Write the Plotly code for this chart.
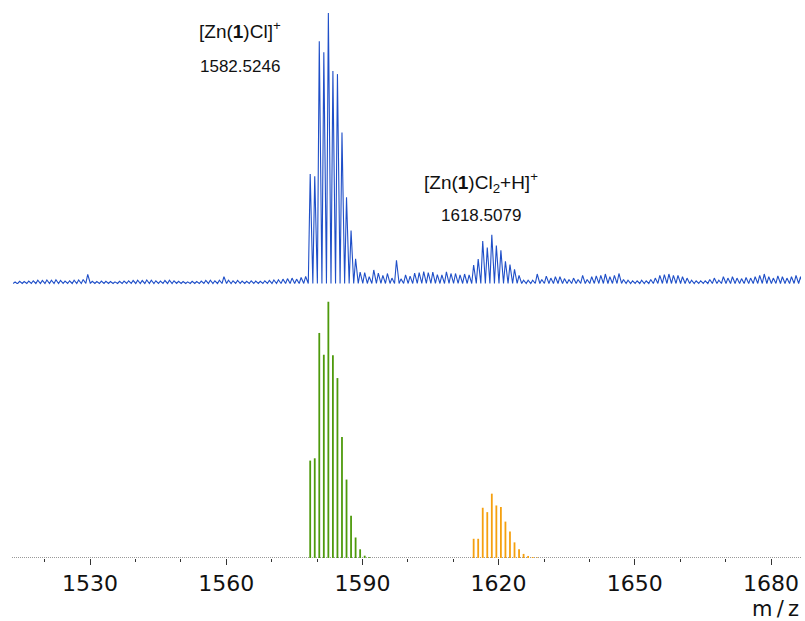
import plotly.graph_objects as go

# ---------------- data ----------------
# Experimental spectrum (blue): intensities at m/z = 1513.5 + i (step 1)
blue_start = 1513.5
blue_noise_a = [0.006, 0.008, 0.007, 0.009, 0.010, 0.012, 0.011, 0.013,
                0.012, 0.014, 0.011, 0.009, 0.010, 0.012, 0.013, 0.015]      # 1513.5-1528.5
blue_spike_1529 = [0.034]                                                    # 1529.5
blue_noise_b = [0.008, 0.007, 0.009, 0.008, 0.007, 0.006, 0.008, 0.009, 0.010, 0.011,
                0.012, 0.011, 0.013, 0.012, 0.010, 0.009, 0.011, 0.012, 0.010, 0.008,
                0.007, 0.006, 0.008, 0.007, 0.009, 0.011, 0.012, 0.010, 0.012]  # 1530.5-1558.5
blue_spike_1559 = [0.025]                                                    # 1559.5
blue_noise_c = [0.012, 0.010, 0.011, 0.009, 0.008, 0.010, 0.009, 0.008,
                0.010, 0.011, 0.013, 0.014]                                  # 1560.5-1571.5
blue_noise_d = [0.016, 0.018, 0.020, 0.016, 0.022, 0.026]                    # 1572.5-1577.5
blue_cluster_1 = [0.405, 0.396, 0.896, 0.855, 1.000, 0.786, 0.774, 0.558,
                  0.319, 0.196, 0.091, 0.042]                                # 1578.5-1589.5
blue_noise_e = [0.040, 0.025, 0.050, 0.038, 0.030, 0.037, 0.020, 0.086, 0.017, 0.032,
                0.027, 0.038, 0.040, 0.044, 0.040, 0.042, 0.033, 0.032, 0.043, 0.037,
                0.037, 0.032, 0.035, 0.032]                                  # 1590.5-1613.5
blue_cluster_2 = [0.068, 0.090, 0.157, 0.133, 0.180, 0.140, 0.123, 0.082,
                  0.070, 0.052, 0.030]                                       # 1614.5-1624.5
blue_noise_f = [0.012, 0.012, 0.012, 0.035, 0.015, 0.027, 0.020, 0.025, 0.025, 0.018,
                0.015, 0.020, 0.015, 0.030, 0.015]                           # 1625.5-1639.5
blue_noise_g = [0.025, 0.028, 0.030, 0.035, 0.025, 0.030, 0.037,
                0.015, 0.012, 0.010, 0.010, 0.012, 0.010, 0.015, 0.020,
                0.030, 0.033, 0.035, 0.030, 0.030, 0.025, 0.020,
                0.012, 0.010, 0.010, 0.010, 0.015, 0.020, 0.012, 0.025,
                0.020, 0.025, 0.020, 0.018, 0.022, 0.020, 0.025, 0.030, 0.035, 0.025, 0.020,
                0.028, 0.025, 0.020, 0.025, 0.030, 0.025]                    # 1640.5-1686.5

blue_intensity = (blue_noise_a + blue_spike_1529 + blue_noise_b + blue_spike_1559 +
                  blue_noise_c + blue_noise_d + blue_cluster_1 + blue_noise_e +
                  blue_cluster_2 + blue_noise_f + blue_noise_g)
blue_mz = [blue_start + i for i in range(len(blue_intensity))]

# Simulated isotope pattern [Zn(1)Cl]+ (green)
green_mz = [1578.5, 1579.5, 1580.5, 1581.5, 1582.5, 1583.5, 1584.5,
            1585.5, 1586.5, 1587.5, 1588.5, 1589.5, 1590.5, 1591.5]
green_int = [0.380, 0.389, 0.878, 0.793, 1.000, 0.791, 0.702,
             0.472, 0.306, 0.165, 0.080, 0.034, 0.009, 0.003]

# Simulated isotope pattern [Zn(1)Cl2+H]+ (orange)
orange_mz = [1614.5, 1615.5, 1616.5, 1617.5, 1618.5, 1619.5, 1620.5, 1621.5,
             1622.5, 1623.5, 1624.5, 1625.5, 1626.5, 1627.5, 1628.5]
orange_int = [0.075, 0.075, 0.196, 0.179, 0.251, 0.205, 0.199, 0.142,
              0.103, 0.061, 0.034, 0.016, 0.008, 0.004, 0.002]

x_tick_vals = [1530, 1560, 1590, 1620, 1650, 1680]
x_tick_text = ["1530", "1560", "1590", "1620", "1650", "1680"]

label1 = ("[Zn(<b>1</b>)Cl]<sup>+</sup>", "1582.5246")
label2 = ("[Zn(<b>1</b>)Cl<sub>2</sub>+H]<sup>+</sup>", "1618.5079")

# ---------------- figure ----------------
BLUE = "#1f4fc8"
GREEN = "#4e9a0c"
ORANGE = "#f5a00f"

# profile line for experimental trace
px, py = [], []
hw = 0.42
for m, h in zip(blue_mz, blue_intensity):
    px += [m - hw, m, m + hw]
    py += [0, h, 0]

def sticks(mz, inten):
    xs, ys = [], []
    for m, h in zip(mz, inten):
        xs += [m, m, None]
        ys += [0, h, None]
    return xs, ys

gx, gy = sticks(green_mz, green_int)
ox, oy = sticks(orange_mz, orange_int)

fig = go.Figure()
fig.add_trace(go.Scatter(x=px, y=py, mode="lines", xaxis="x", yaxis="y2",
                         line=dict(color=BLUE, width=1.1), hoverinfo="skip",
                         showlegend=False))
fig.add_trace(go.Scatter(x=gx, y=gy, mode="lines", xaxis="x", yaxis="y",
                         line=dict(color=GREEN, width=1.8), hoverinfo="skip",
                         showlegend=False))
fig.add_trace(go.Scatter(x=ox, y=oy, mode="lines", xaxis="x", yaxis="y",
                         line=dict(color=ORANGE, width=1.8), hoverinfo="skip",
                         showlegend=False))

fig.add_shape(type="line", xref="paper", x0=0, x1=1, yref="y", y0=0, y1=0,
              line=dict(color="#333333", width=1, dash="1px,1px"), layer="below")

ann_font = dict(family="Liberation Sans, Arial, sans-serif", size=19, color="#111111")
num_font = dict(family="Liberation Sans, Arial, sans-serif", size=17, color="#111111")
annotations = [
    dict(x=1563.0, y=0.937, xref="x", yref="y2", text=label1[0], showarrow=False, font=ann_font),
    dict(x=1563.0, y=0.804, xref="x", yref="y2", text=label1[1], showarrow=False, font=num_font),
    dict(x=1616.1, y=0.372, xref="x", yref="y2", text=label2[0], showarrow=False, font=ann_font),
    dict(x=1616.1, y=0.253, xref="x", yref="y2", text=label2[1], showarrow=False, font=num_font),
    dict(x=1.0, y=-0.092, xref="paper", yref="paper", xanchor="right", yanchor="middle",
         text="m\u2009/\u2009z", showarrow=False,
         font=dict(family="DejaVu Sans", size=21, color="#111111")),
]

fig.update_layout(
    width=805, height=621,
    margin=dict(l=12, r=4, t=5, b=63),
    paper_bgcolor="white", plot_bgcolor="white",
    showlegend=False,
    annotations=annotations,
    xaxis=dict(range=[1512.82, 1686.6], tickmode="array", tickvals=x_tick_vals,
               ticktext=x_tick_text, ticks="outside", ticklen=6, tickwidth=1,
               tickcolor="#333333", showgrid=False, zeroline=False, showline=False,
               tickfont=dict(family="DejaVu Sans", size=22, color="#111111"),
               minor=dict(dtick=10, tick0=1520, ticks="outside", ticklen=3,
                          tickwidth=1, tickcolor="#333333", showgrid=False),
               anchor="y", automargin=False),
    yaxis=dict(domain=[0, 0.47], range=[0, 1.014], visible=False, fixedrange=True),
    yaxis2=dict(domain=[0.47, 1.0], range=[-0.054, 1.0296], visible=False, anchor="x"),
)

fig.write_html("out.html", config={"displayModeBar": False},
               post_script="document.body.style.margin='0';document.body.style.padding='0';")
